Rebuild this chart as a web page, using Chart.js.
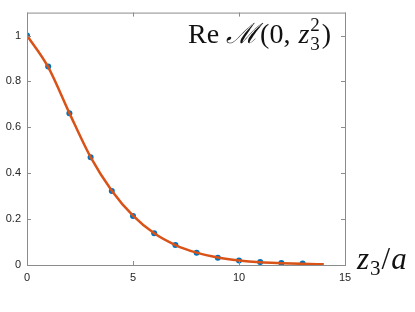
<!DOCTYPE html>
<html lang="en">
<head>
  <meta charset="UTF-8" />
  <title>Re M(0, z3^2)</title>
  <script src="https://cdn.jsdelivr.net/npm/chart.js"></script>
  <style>
    html, body { margin: 0; padding: 0; background: #fff; }
    #wrap { width: 415px; height: 312px; }
  </style>
</head>
<body>
  <div id="wrap"><canvas id="chart"></canvas></div>

  <script>
    // lattice points (blue dots)
    const pointX = [0, 1, 2, 3, 4, 5, 6, 7, 8, 9, 10, 11, 12, 13];
    const pointY = [1.0, 0.865, 0.661, 0.47, 0.323, 0.214, 0.138, 0.087, 0.053, 0.032, 0.02, 0.013, 0.009, 0.006];

    // fitted curve (orange)
    const curveX = [0, 1, 2, 3, 4, 5, 6, 7, 8, 9, 10, 11, 12, 13, 14];
    const curveY = [1.0, 0.862, 0.662, 0.47, 0.324, 0.215, 0.138, 0.087, 0.054, 0.033, 0.02, 0.012, 0.008, 0.005, 0.003];

    const xTicks = [0, 5, 10, 15];
    const yTicks = [0, 0.2, 0.4, 0.6, 0.8, 1];

    const axisGray = '#8c8c8c';
    const labelColor = '#262626';
    const serif = '"Liberation Serif", "DejaVu Serif", serif';

    // box around the plot with inward ticks on all four sides
    const framePlugin = {
      id: 'frame',
      afterDatasetsDraw(chart) {
        const { ctx, chartArea: a, scales } = chart;
        ctx.save();
        ctx.strokeStyle = axisGray;
        ctx.lineWidth = 1;
        ctx.strokeRect(a.left + 0.5, a.top + 0.5, a.right - a.left, a.bottom - a.top);
        ctx.beginPath();
        xTicks.forEach(v => {
          const px = Math.round(scales.x.getPixelForValue(v)) + 0.5;
          ctx.moveTo(px, a.bottom); ctx.lineTo(px, a.bottom - 4);
          ctx.moveTo(px, a.top); ctx.lineTo(px, a.top + 4);
        });
        yTicks.forEach(v => {
          const py = Math.round(scales.y.getPixelForValue(v)) + 0.5;
          ctx.moveTo(a.left, py); ctx.lineTo(a.left + 4, py);
          ctx.moveTo(a.right, py); ctx.lineTo(a.right - 4, py);
        });
        ctx.stroke();

        // LaTeX-style labels
        ctx.fillStyle = '#111';
        ctx.textBaseline = 'alphabetic';
        let x = 188, y = 43;
        ctx.font = '28px ' + serif;
        ctx.fillText('Re', x, y); x += ctx.measureText('Re').width + 7;
        ctx.font = 'italic 28px ' + serif;
        ctx.fillText('\u2133', x, y); x += ctx.measureText('\u2133').width + 2;
        ctx.font = '28px ' + serif;
        ctx.fillText('(0,', x, y); x += ctx.measureText('(0, ').width + 1;
        ctx.font = 'italic 28px ' + serif;
        ctx.fillText('z', x, y); x += ctx.measureText('z').width + 1;
        ctx.font = '19px ' + serif;
        ctx.fillText('2', x, y - 12);
        ctx.fillText('3', x, y + 7); x += ctx.measureText('3').width + 2;
        ctx.font = '28px ' + serif;
        ctx.fillText(')', x, y);

        x = 357; y = 269;
        ctx.font = 'italic 31px ' + serif;
        ctx.fillText('z', x, y); x += ctx.measureText('z').width + 1;
        ctx.font = '21px ' + serif;
        ctx.fillText('3', x, y + 6); x += ctx.measureText('3').width + 1;
        ctx.font = '31px ' + serif;
        ctx.fillText('/', x, y); x += ctx.measureText('/').width + 1;
        ctx.font = 'italic 31px ' + serif;
        ctx.fillText('a', x, y);
        ctx.restore();
      }
    };

    new Chart(document.getElementById('chart'), {
      type: 'scatter',
      data: {
        datasets: [
          {
            label: 'curve',
            type: 'line',
            data: curveX.map((v, i) => ({ x: v, y: curveY[i] })),
            borderColor: '#D95319',
            borderWidth: 2.5,
            pointRadius: 0,
            cubicInterpolationMode: 'monotone',
            fill: false,
            order: 1
          },
          {
            label: 'points',
            data: pointX.map((v, i) => ({ x: v, y: pointY[i] })),
            backgroundColor: '#0072BD',
            borderWidth: 0,
            pointRadius: 3,
            order: 2
          }
        ]
      },
      options: {
        responsive: true,
        maintainAspectRatio: false,
        animation: false,
        layout: { padding: { top: 12, right: 70, bottom: 26, left: 0 } },
        plugins: { legend: { display: false }, tooltip: { enabled: false } },
        scales: {
          x: {
            type: 'linear',
            min: 0, max: 15,
            afterBuildTicks: s => { s.ticks = xTicks.map(v => ({ value: v })); },
            afterFit: s => { s.height = 21; },
            grid: { display: false, drawTicks: false },
            border: { display: false },
            ticks: { color: labelColor, font: { family: 'Liberation Sans', size: 11 }, padding: 6, maxRotation: 0 }
          },
          y: {
            min: 0, max: 1.1,
            afterBuildTicks: s => { s.ticks = yTicks.map(v => ({ value: v })); },
            afterFit: s => { s.width = 27; },
            grid: { display: false, drawTicks: false },
            border: { display: false },
            ticks: { color: labelColor, font: { family: 'Liberation Sans', size: 11 }, padding: 6, callback: v => String(v) }
          }
        }
      },
      plugins: [framePlugin]
    });
  </script>
</body>
</html>
